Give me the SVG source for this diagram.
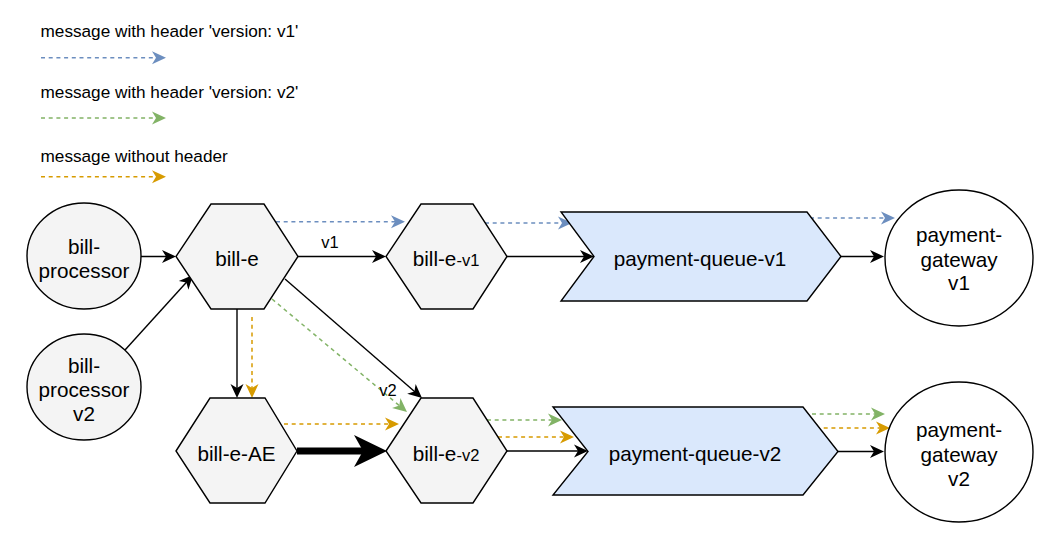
<svg xmlns="http://www.w3.org/2000/svg" width="1061" height="557" viewBox="0 0 1061 557">
<style>
text{font-family:"Liberation Sans",Arial,Helvetica,sans-serif;fill:#000}
.lg{font-size:17.2px}
.nt{font-size:20.7px;text-anchor:middle}
.sm{font-size:16.5px}
.el{font-size:16.5px}
.node{stroke:#000;stroke-width:1.4;fill:#f4f4f4}
.white{fill:#fff}
.queue{fill:#dae8fc}
.e{fill:none;stroke:#000;stroke-width:1.4}
.ek{marker-end:url(#ak)}
.d{fill:none;stroke-width:1.5;stroke-dasharray:4 3.7}
.db{stroke:#6c8ebf;marker-end:url(#ab)}
.dg{stroke:#82b366;marker-end:url(#ag)}
.do{stroke:#d79b00;marker-end:url(#ao)}
</style>
<defs>
<marker id="ak" markerUnits="userSpaceOnUse" viewBox="-12 -8 16 16" markerWidth="16" markerHeight="16" refX="0" refY="0" orient="auto"><path d="M3,0 L-11,-6.5 L-7,0 L-11,6.5 Z" fill="#000"/></marker>
<marker id="ab" markerUnits="userSpaceOnUse" viewBox="-12 -8 16 16" markerWidth="16" markerHeight="16" refX="0" refY="0" orient="auto"><path d="M3,0 L-11,-6.5 L-7,0 L-11,6.5 Z" fill="#6c8ebf"/></marker>
<marker id="ag" markerUnits="userSpaceOnUse" viewBox="-12 -8 16 16" markerWidth="16" markerHeight="16" refX="0" refY="0" orient="auto"><path d="M3,0 L-11,-6.5 L-7,0 L-11,6.5 Z" fill="#82b366"/></marker>
<marker id="ao" markerUnits="userSpaceOnUse" viewBox="-12 -8 16 16" markerWidth="16" markerHeight="16" refX="0" refY="0" orient="auto"><path d="M3,0 L-11,-6.5 L-7,0 L-11,6.5 Z" fill="#d79b00"/></marker>
<marker id="abig" markerUnits="userSpaceOnUse" viewBox="-14 -18 40 36" markerWidth="40" markerHeight="36" refX="0" refY="0" orient="auto"><path d="M22,0 L-11,-16 L-2,0 L-11,16 Z" fill="#000"/></marker>
</defs>

<g id="legend">
<text class="lg" x="40.5" y="37">message with header 'version: v1'</text>
<line class="d db" x1="41" y1="57.7" x2="163" y2="57.7"/>
<text class="lg" x="40.5" y="98.3">message with header 'version: v2'</text>
<line class="d dg" x1="41" y1="118" x2="163" y2="118"/>
<text class="lg" x="40.5" y="161.7">message without header</text>
<line class="d do" x1="41" y1="176.7" x2="163" y2="176.7"/>
</g>

<g id="connectors">
<line class="e ek" x1="140.5" y1="256.5" x2="173" y2="256.5"/>
<line class="e ek" x1="125" y1="350" x2="191" y2="277.2"/>
<line class="e ek" x1="298" y1="256.5" x2="383" y2="256.5"/>
<text class="el" x="330" y="247.5" text-anchor="middle">v1</text>
<line class="d db" x1="276" y1="221.7" x2="402" y2="221.7"/>
<line class="e ek" x1="237" y1="309" x2="237" y2="395"/>
<line class="d do" x1="252" y1="317" x2="252" y2="395"/>
<line class="d dg" x1="272" y1="299" x2="404.7" y2="410.1"/>
<line class="e ek" x1="285" y1="279" x2="419.7" y2="396"/>
<text class="el" x="388" y="396" text-anchor="middle">v2</text>
<line class="d do" x1="284" y1="424" x2="396" y2="424"/>
<line x1="297" y1="451" x2="365" y2="451" stroke="#000" stroke-width="7" marker-end="url(#abig)"/>
<line class="e ek" x1="507" y1="256.5" x2="591" y2="256.5"/>
<line class="d db" x1="485" y1="223" x2="569" y2="223"/>
<line class="e ek" x1="841" y1="256.5" x2="881" y2="256.5"/>
<line class="d db" x1="810" y1="218" x2="892" y2="218"/>
<line class="e ek" x1="507" y1="451" x2="585" y2="451"/>
<line class="d dg" x1="487" y1="420" x2="559" y2="420"/>
<line class="d do" x1="498" y1="437" x2="571" y2="437"/>
<line class="e ek" x1="838" y1="451.5" x2="881" y2="451.5"/>
<line class="d dg" x1="812" y1="414" x2="882" y2="414"/>
<line class="d do" x1="816" y1="428" x2="887" y2="428"/>
</g>

<g id="bill-processor">
<ellipse class="node" cx="84" cy="256" rx="57" ry="53"/>
<text class="nt" x="84" y="254">bill-</text>
<text class="nt" x="84" y="278">processor</text>
</g>

<g id="bill-processor-v2">
<ellipse class="node" cx="84" cy="387" rx="57" ry="53"/>
<text class="nt" x="84" y="373">bill-</text>
<text class="nt" x="84" y="397">processor</text>
<text class="nt" x="84" y="420.5">v2</text>
</g>

<g id="bill-e">
<polygon class="node" points="176,256.5 211,204 264,204 298,256.5 264,309 211,309"/>
<text class="nt" x="237" y="266">bill-e</text>
</g>

<g id="bill-e-AE">
<polygon class="node" points="176,451 210,398 265,398 297,451 265,503 210,503"/>
<text class="nt" x="236.5" y="460.5">bill-e-AE</text>
</g>

<g id="bill-e-v1">
<polygon class="node" points="386,256.5 421,204 473,204 507,256.5 473,309 421,309"/>
<text class="nt" x="446" y="266">bill-e<tspan class="sm">-v1</tspan></text>
</g>

<g id="bill-e-v2">
<polygon class="node" points="386,451 421,398 473,398 507,451 473,503 421,503"/>
<text class="nt" x="446" y="460.5">bill-e<tspan class="sm">-v2</tspan></text>
</g>

<g id="payment-queue-v1">
<polygon class="node queue" points="561,212 807,212 841,256.5 807,301 561,301 594,256.5"/>
<text class="nt" x="700" y="265.5">payment-queue-v1</text>
</g>

<g id="payment-queue-v2">
<polygon class="node queue" points="553,407 803,407 838,451.5 803,495 553,495 588,451.5"/>
<text class="nt" x="695" y="461">payment-queue-v2</text>
</g>

<g id="payment-gateway-v1">
<ellipse class="node white" cx="959" cy="258" rx="74" ry="68"/>
<text class="nt" x="959" y="242">payment-</text>
<text class="nt" x="959" y="266.5">gateway</text>
<text class="nt" x="959" y="290">v1</text>
</g>

<g id="payment-gateway-v2">
<ellipse class="node white" cx="959" cy="452" rx="74" ry="70"/>
<text class="nt" x="959" y="437">payment-</text>
<text class="nt" x="959" y="461.5">gateway</text>
<text class="nt" x="959" y="485.5">v2</text>
</g>
</svg>
